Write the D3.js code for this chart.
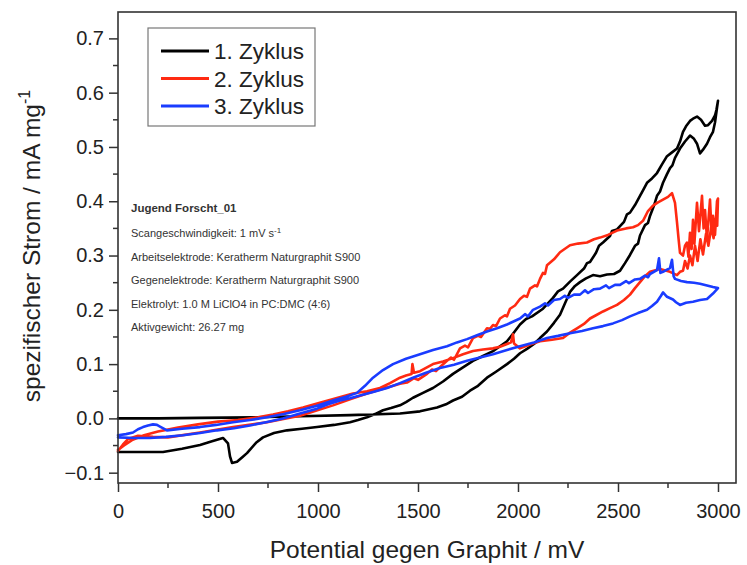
<!DOCTYPE html>
<html>
<head>
<meta charset="utf-8">
<script src="https://cdn.jsdelivr.net/npm/d3@7"></script>
<style>
  html, body { margin: 0; padding: 0; background: #fff; }
  svg { display: block; font-family: Arial, "Liberation Sans", sans-serif; }
</style>
</head>
<body>
<svg id="chart" width="747" height="565"></svg>
<script>
// Cyclic voltammetry of natural graphite: three cycles, potential (mV) vs. specific current (mA/mg)
const seriesNames = ["1. Zyklus", "2. Zyklus", "3. Zyklus"];
const seriesColors = ["#000000", "#ff2a12", "#1a3cff"];

const xTicks = [0, 500, 1000, 1500, 2000, 2500, 3000];
const yTicks = [-0.1, 0.0, 0.1, 0.2, 0.3, 0.4, 0.5, 0.6, 0.7];

// Cycle 1: forward scan then reverse scan, [mV, mA/mg]
const cycle1 = [
  [0, 0.0], [200, 0.0], [410, 0.001], [700, 0.002], [910, 0.004], [1160, 0.006], [1410, 0.009],
  [1510, 0.013], [1595, 0.020], [1640, 0.026], [1675, 0.033], [1720, 0.040], [1760, 0.051],
  [1800, 0.060], [1845, 0.075], [1890, 0.086], [1945, 0.100], [1980, 0.110], [2010, 0.120],
  [2045, 0.128], [2080, 0.137], [2110, 0.148], [2145, 0.160], [2180, 0.176], [2210, 0.191],
  [2235, 0.212], [2260, 0.233], [2285, 0.244], [2310, 0.251], [2340, 0.258], [2375, 0.264],
  [2410, 0.262], [2445, 0.265], [2480, 0.266], [2510, 0.272], [2535, 0.286], [2560, 0.301],
  [2585, 0.318], [2600, 0.322], [2610, 0.337], [2635, 0.356], [2650, 0.360], [2660, 0.373],
  [2680, 0.392], [2695, 0.410], [2710, 0.418], [2725, 0.434], [2745, 0.450], [2760, 0.461],
  [2772, 0.466], [2785, 0.480], [2810, 0.497], [2835, 0.510], [2860, 0.521], [2880, 0.515],
  [2895, 0.506], [2910, 0.488], [2925, 0.495], [2945, 0.506], [2960, 0.518], [2975, 0.528],
  [2985, 0.545], [2995, 0.572], [3000, 0.585],
  [2992, 0.568], [2985, 0.558], [2970, 0.548], [2950, 0.540], [2935, 0.539], [2915, 0.550],
  [2895, 0.556], [2875, 0.552], [2860, 0.548], [2840, 0.538], [2825, 0.528], [2810, 0.510],
  [2795, 0.497], [2770, 0.490], [2745, 0.483], [2720, 0.468], [2695, 0.452], [2670, 0.442],
  [2645, 0.434], [2625, 0.420], [2610, 0.410], [2585, 0.393], [2560, 0.379], [2545, 0.376],
  [2530, 0.362], [2495, 0.348], [2470, 0.345], [2460, 0.336], [2425, 0.324], [2405, 0.318],
  [2390, 0.305], [2360, 0.288], [2345, 0.286], [2330, 0.276], [2295, 0.264], [2260, 0.252],
  [2225, 0.239], [2200, 0.234], [2175, 0.222], [2125, 0.202], [2070, 0.188], [2040, 0.183],
  [2010, 0.173], [1975, 0.156], [1945, 0.142], [1910, 0.133], [1875, 0.124], [1825, 0.115],
  [1775, 0.106], [1725, 0.094], [1675, 0.082], [1625, 0.068], [1575, 0.056], [1525, 0.047],
  [1475, 0.038], [1440, 0.030], [1410, 0.024], [1365, 0.019], [1325, 0.015], [1285, 0.008],
  [1245, 0.002], [1200, -0.003], [1160, -0.007], [1080, -0.012], [995, -0.016], [920, -0.019],
  [845, -0.022], [780, -0.027], [725, -0.035], [690, -0.045], [645, -0.064], [620, -0.072],
  [595, -0.080], [570, -0.082], [560, -0.070], [550, -0.046], [525, -0.036], [470, -0.042],
  [410, -0.049], [320, -0.056], [225, -0.062], [120, -0.062], [0, -0.062]
];

// Cycle 2
const cycle2 = [
  [0, -0.060], [25, -0.048], [50, -0.038], [100, -0.032], [175, -0.034], [250, -0.035],
  [410, -0.026], [575, -0.016], [745, -0.007], [910, 0.005], [1075, 0.024], [1160, 0.035],
  [1245, 0.046], [1330, 0.055], [1410, 0.064], [1445, 0.066], [1480, 0.074], [1500, 0.071],
  [1545, 0.082], [1570, 0.090], [1590, 0.087], [1620, 0.098], [1645, 0.106], [1665, 0.112],
  [1680, 0.108], [1710, 0.129], [1735, 0.134], [1750, 0.131], [1775, 0.148], [1800, 0.152],
  [1815, 0.150], [1845, 0.166], [1860, 0.165], [1875, 0.172], [1890, 0.170], [1910, 0.184],
  [1935, 0.190], [1945, 0.188], [1960, 0.202], [1985, 0.208], [2010, 0.220], [2030, 0.226],
  [2045, 0.224], [2060, 0.239], [2085, 0.245], [2095, 0.243], [2110, 0.257], [2125, 0.268],
  [2135, 0.266], [2145, 0.282], [2180, 0.293], [2210, 0.306], [2260, 0.319], [2300, 0.322],
  [2345, 0.324], [2380, 0.330], [2410, 0.333], [2450, 0.338], [2495, 0.346], [2540, 0.350],
  [2575, 0.352], [2600, 0.356], [2625, 0.364], [2650, 0.382], [2675, 0.392], [2700, 0.398],
  [2725, 0.403], [2750, 0.408], [2770, 0.415],
  [2785, 0.397], [2795, 0.361], [2803, 0.330], [2810, 0.305], [2825, 0.300], [2835, 0.318],
  [2845, 0.324], [2852, 0.298], [2860, 0.342], [2868, 0.312], [2875, 0.366], [2882, 0.322],
  [2895, 0.397], [2905, 0.345], [2920, 0.410], [2928, 0.350], [2935, 0.384], [2945, 0.330],
  [2960, 0.403], [2968, 0.342], [2975, 0.373], [2985, 0.338], [2995, 0.400], [3000, 0.405],
  [2996, 0.355], [2988, 0.368], [2978, 0.332], [2966, 0.352], [2952, 0.318], [2940, 0.340],
  [2925, 0.302], [2912, 0.330], [2898, 0.290], [2885, 0.318], [2872, 0.282], [2860, 0.300],
  [2848, 0.276], [2835, 0.290], [2825, 0.272], [2810, 0.270], [2795, 0.264], [2760, 0.270],
  [2710, 0.275], [2660, 0.270], [2635, 0.262], [2610, 0.251], [2585, 0.240], [2560, 0.228],
  [2530, 0.218], [2495, 0.209], [2460, 0.203], [2425, 0.197], [2390, 0.190], [2360, 0.184],
  [2330, 0.174], [2295, 0.166], [2260, 0.158], [2225, 0.148], [2170, 0.145], [2110, 0.142],
  [2060, 0.136], [2010, 0.129], [1980, 0.138], [1975, 0.155], [1965, 0.140], [1945, 0.137],
  [1910, 0.132], [1875, 0.129], [1825, 0.127], [1775, 0.124], [1725, 0.118], [1675, 0.111],
  [1625, 0.105], [1575, 0.100], [1540, 0.093], [1510, 0.087], [1480, 0.084], [1472, 0.100],
  [1468, 0.082], [1440, 0.079], [1410, 0.075], [1360, 0.065], [1310, 0.056], [1245, 0.050],
  [1175, 0.046], [1090, 0.037], [1000, 0.028], [925, 0.020], [850, 0.013], [775, 0.007],
  [700, 0.002], [600, -0.003], [500, -0.006], [400, -0.011], [300, -0.017], [200, -0.024],
  [130, -0.031], [70, -0.040], [30, -0.050], [0, -0.058]
];

// Cycle 3
const cycle3 = [
  [0, -0.031], [40, -0.029], [75, -0.026], [100, -0.020], [125, -0.016], [150, -0.013],
  [175, -0.011], [195, -0.012], [210, -0.015], [245, -0.022], [320, -0.019], [410, -0.016],
  [490, -0.012], [575, -0.007], [660, -0.003], [745, 0.002], [830, 0.008], [910, 0.015],
  [990, 0.023], [1075, 0.033], [1140, 0.040], [1195, 0.047], [1235, 0.060], [1275, 0.075],
  [1325, 0.089], [1375, 0.100], [1440, 0.110], [1510, 0.118], [1575, 0.126], [1645, 0.133],
  [1695, 0.140], [1745, 0.146], [1795, 0.153], [1845, 0.160], [1895, 0.166], [1945, 0.173],
  [2010, 0.184], [2035, 0.192], [2050, 0.188], [2075, 0.200], [2110, 0.206], [2135, 0.212],
  [2150, 0.208], [2180, 0.218], [2210, 0.220], [2235, 0.226], [2250, 0.222], [2280, 0.228],
  [2310, 0.228], [2335, 0.236], [2350, 0.231], [2380, 0.238], [2410, 0.239], [2440, 0.245],
  [2455, 0.240], [2485, 0.246], [2510, 0.246], [2540, 0.253], [2555, 0.249], [2585, 0.256],
  [2610, 0.257], [2635, 0.263], [2650, 0.260], [2660, 0.266], [2695, 0.273], [2705, 0.295],
  [2712, 0.268], [2725, 0.270], [2745, 0.274], [2760, 0.277], [2770, 0.292], [2778, 0.262],
  [2785, 0.257], [2815, 0.253], [2845, 0.251], [2880, 0.250], [2910, 0.248], [2945, 0.245],
  [2975, 0.242], [3000, 0.240],
  [2975, 0.230], [2945, 0.220], [2910, 0.218], [2875, 0.215], [2840, 0.213], [2810, 0.209],
  [2790, 0.214], [2775, 0.219], [2745, 0.224], [2725, 0.232], [2715, 0.226], [2695, 0.215],
  [2670, 0.207], [2645, 0.200], [2600, 0.194], [2560, 0.188], [2520, 0.181], [2475, 0.175],
  [2425, 0.170], [2375, 0.166], [2320, 0.161], [2260, 0.157], [2200, 0.152], [2145, 0.148],
  [2080, 0.140], [2010, 0.133], [1945, 0.126], [1875, 0.118], [1810, 0.112], [1745, 0.106],
  [1680, 0.099], [1610, 0.093], [1540, 0.084], [1475, 0.075], [1410, 0.065], [1345, 0.056],
  [1280, 0.049], [1210, 0.042], [1160, 0.037], [1110, 0.033], [1050, 0.026], [995, 0.018],
  [910, 0.009], [825, 0.0], [740, -0.007], [660, -0.013], [580, -0.018], [495, -0.022],
  [410, -0.027], [325, -0.031], [240, -0.034], [160, -0.036], [80, -0.036], [0, -0.035]
];

const cycles = [cycle1, cycle2, cycle3];

const infoTitle = "Jugend Forscht_01";
const infoLines = [
  ["Scangeschwindigkeit: 1 mV s", "-1"],
  ["Arbeitselektrode: Keratherm Naturgraphit S900", ""],
  ["Gegenelektrode: Keratherm Naturgraphit S900", ""],
  ["Elektrolyt: 1.0 M LiClO4 in PC:DMC (4:6)", ""],
  ["Aktivgewicht: 26.27 mg", ""]
];

const svg = d3.select("#chart");
const margin = { left: 118, right: 11, top: 12, bottom: 82 };
const W = 747, H = 565;
const plotW = W - margin.left - margin.right;
const plotH = H - margin.top - margin.bottom;

const x = d3.scaleLinear().domain([0, 3090]).range([0, plotW]);
const y = d3.scaleLinear().domain([-0.119, 0.7486]).range([plotH, 0]);

const g = svg.append("g").attr("transform", `translate(${margin.left},${margin.top})`);

// Data curves
const line = d3.line().x(d => x(d[0])).y(d => y(d[1])).curve(d3.curveLinear);
g.selectAll("path.cycle")
  .data(cycles)
  .join("path")
  .attr("class", "cycle")
  .attr("d", d => line(d))
  .attr("fill", "none")
  .attr("stroke", (d, i) => seriesColors[i])
  .attr("stroke-width", 2.6)
  .attr("stroke-linejoin", "round")
  .attr("stroke-linecap", "round");

// Frame
const axisColor = "#333";
g.append("rect")
  .attr("x", 0).attr("y", 0).attr("width", plotW).attr("height", plotH)
  .attr("fill", "none").attr("stroke", axisColor).attr("stroke-width", 1.6);

// Minor ticks
const xMinor = d3.range(250, 3001, 500);
const yMinor = d3.range(-0.05, 0.71, 0.1);
g.selectAll("line.xminor").data(xMinor).join("line")
  .attr("x1", d => x(d)).attr("x2", d => x(d))
  .attr("y1", plotH).attr("y2", plotH + 5)
  .attr("stroke", axisColor).attr("stroke-width", 1.5);
g.selectAll("line.yminor").data(yMinor).join("line")
  .attr("y1", d => y(d)).attr("y2", d => y(d))
  .attr("x1", 0).attr("x2", -5)
  .attr("stroke", axisColor).attr("stroke-width", 1.5);

// Axes
const xAxis = d3.axisBottom(x).tickValues(xTicks).tickSize(9).tickPadding(8).tickFormat(d3.format("d"));
const yAxis = d3.axisLeft(y).tickValues(yTicks).tickSize(9).tickPadding(5).tickFormat(d3.format(".1f"));

const gx = g.append("g").attr("transform", `translate(0,${plotH})`).call(xAxis);
const gy = g.append("g").call(yAxis);
[gx, gy].forEach(a => {
  a.select(".domain").remove();
  a.selectAll(".tick line").attr("stroke", axisColor).attr("stroke-width", 1.5);
  a.selectAll(".tick text").attr("fill", "#222").style("font-size", "20px")
    .style("font-family", "Arial, 'Liberation Sans', sans-serif");
});
gx.selectAll(".tick text").attr("dy", "0.9em");

// Axis titles
svg.append("text")
  .attr("x", 427).attr("y", 558)
  .attr("text-anchor", "middle")
  .attr("fill", "#222")
  .style("font-size", "24.5px")
  .text("Potential gegen Graphit / mV");

const yTitle = svg.append("text")
  .attr("transform", "translate(40,246) rotate(-90)")
  .attr("text-anchor", "middle")
  .attr("fill", "#222")
  .style("font-size", "24.5px");
yTitle.append("tspan").text("spezifischer Strom / mA mg");
yTitle.append("tspan").attr("dy", "-0.6em").style("font-size", "16px").text("-1");

// Legend
const legend = svg.append("g");
legend.append("rect")
  .attr("x", 148).attr("y", 28).attr("width", 167).attr("height", 98)
  .attr("fill", "#fff").attr("stroke", "#777").attr("stroke-width", 1.2);
seriesNames.forEach((name, i) => {
  const ly = 51 + i * 27.5;
  legend.append("line")
    .attr("x1", 161).attr("x2", 209).attr("y1", ly).attr("y2", ly)
    .attr("stroke", seriesColors[i]).attr("stroke-width", 3);
  legend.append("text")
    .attr("x", 214).attr("y", ly + 8)
    .attr("fill", "#222")
    .style("font-size", "22.5px")
    .text(name);
});

// Measurement info
const info = svg.append("g").attr("fill", "#333").style("font-size", "11px");
info.append("text").attr("x", 131).attr("y", 212).style("font-weight", "bold").style("font-size", "11.5px").text(infoTitle);
infoLines.forEach((ln, i) => {
  const t = info.append("text").attr("x", 131).attr("y", 237 + i * 23.6);
  t.append("tspan").text(ln[0]);
  if (ln[1]) t.append("tspan").attr("dy", "-0.55em").style("font-size", "8px").text(ln[1]);
});
</script>
</body>
</html>
